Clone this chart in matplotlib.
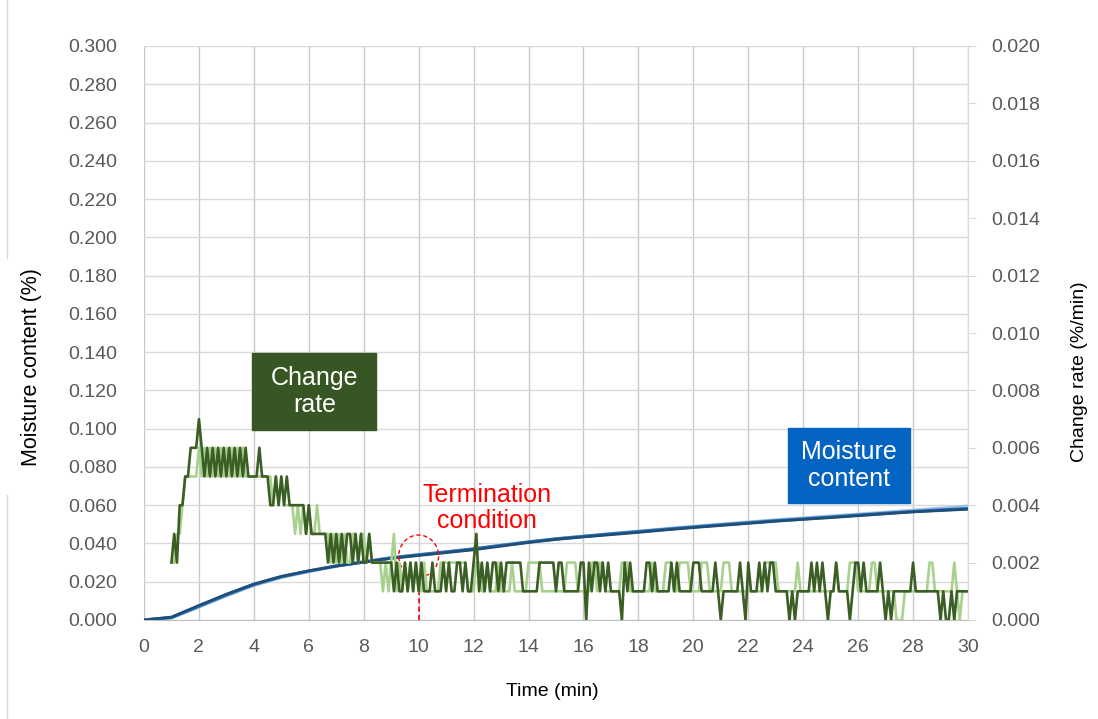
import matplotlib.pyplot as plt
from matplotlib.patches import Ellipse, Rectangle
from matplotlib.lines import Line2D

plt.rcParams['font.family'] = ['Liberation Sans', 'DejaVu Sans']

# === DATA ===
# moisture content (%), read once per minute, three runs
TIME_MC = list(range(31))
MC_DARK = [0.0000, 0.0015, 0.0076, 0.0135, 0.0188, 0.0228, 0.0257, 0.0282, 0.0302, 0.0322,
           0.0337, 0.0352, 0.0367, 0.0386, 0.0405, 0.0421, 0.0434, 0.0446, 0.0458, 0.0471,
           0.0483, 0.0494, 0.0505, 0.0516, 0.0526, 0.0535, 0.0545, 0.0555, 0.0565, 0.0572,
           0.0579]
MC_MID = [0.0000, 0.0013, 0.0072, 0.0131, 0.0185, 0.0226, 0.0256, 0.0283, 0.0304, 0.0325,
          0.0341, 0.0356, 0.0372, 0.0390, 0.0408, 0.0424, 0.0437, 0.0450, 0.0462, 0.0474,
          0.0486, 0.0497, 0.0508, 0.0519, 0.0528, 0.0538, 0.0548, 0.0558, 0.0567, 0.0575,
          0.0582]
MC_LIGHT = [0.0000, 0.0011, 0.0068, 0.0127, 0.0181, 0.0222, 0.0253, 0.0281, 0.0303, 0.0324,
            0.0340, 0.0355, 0.0370, 0.0389, 0.0407, 0.0424, 0.0438, 0.0451, 0.0464, 0.0477,
            0.0489, 0.0501, 0.0512, 0.0523, 0.0533, 0.0543, 0.0553, 0.0563, 0.0574, 0.0584,
            0.0595]

# change rate, one digit per 0.1 min sample, in units of 0.001 %/min
RATE_STEP = 0.1
RATE_DARK_START = 1.0
RATE_DARK = ("2324455666" "7656565656" "5656565655" "5565554454" "5454444443"
             "4333333232" "3232332323" "2232222222" "2121121212" "1211121112"
             "1211221211" "2312121221" "2122222211" "1111222222" "1221111112"
             "2021221212" "1111021211" "1112212111" "1121211111" "2221111121"
             "0111111210" "2111212122" "1111101011" "1112121210" "1121111012"
             "2121111121" "0101111111" "2111111111" "0100101111" "1")
RATE_LIGHT_START = 1.1
RATE_LIGHT = ("233455555" "6565656565" "6565656555" "5555555454" "5444434343"
              "4334333323" "2323223323" "3232222121" "2312121212" "1121111122"
              "2222222211" "1221121112" "1111211111" "2222211111" "1111222211"
              "1112212211" "1111222111" "1111121111" "2221122221" "1112221111"
              "1222111111" "1111112222" "2111111121" "1111111111" "1121111222"
              "1111122111" "1111000111" "1111112211" "1111121011" "1")

X_TICKS = list(range(0, 31, 2))
LEFT_TICKS = [i * 0.02 for i in range(16)]
RIGHT_TICKS = [i * 0.002 for i in range(11)]
TERMINATION_TIME = 10.0
TERMINATION_MC = 0.0334


def rate_series(start, digits):
    vals = [int(c) * 0.001 for c in digits]
    t = [start + i * RATE_STEP for i in range(len(vals))]
    return t, vals


fig = plt.figure(figsize=(10.98, 7.19), dpi=100)
ax = fig.add_axes([144 / 1098, 1 - 620 / 719, 824 / 1098, 574 / 719])
ax2 = ax.twinx()

# --- moisture content (left axis) ---
ax.plot(TIME_MC, MC_LIGHT, color='#9DC3E6', lw=2.3, zorder=3)
ax.plot(TIME_MC, MC_MID, color='#2E75B6', lw=2.3, zorder=3)
ax.plot(TIME_MC, MC_DARK, color='#1F4E79', lw=2.0, zorder=3)

# --- change rate (right axis) ---
t_l, r_l = rate_series(RATE_LIGHT_START, RATE_LIGHT)
t_d, r_d = rate_series(RATE_DARK_START, RATE_DARK)
ax2.plot(t_l, r_l, color='#A9D18E', lw=1.9)
ax2.plot(t_d, r_d, color='#3B5E24', lw=1.9)

# axes
ax.set_xlim(0, 30)
ax.set_ylim(0, 0.3)
ax2.set_ylim(0, 0.02)
ax.set_xticks(X_TICKS)
ax.set_yticks(LEFT_TICKS)
ax2.set_yticks(RIGHT_TICKS)
ax.set_yticklabels([f'{v:.3f}' for v in LEFT_TICKS])
ax2.set_yticklabels([f'{v:.3f}' for v in RIGHT_TICKS])

ax.grid(True, axis='y', color='#D9D9D9', lw=1)
ax.grid(True, axis='x', color='#C9C9C9', lw=1)
ax.set_axisbelow(True)

for s in ['top', 'left', 'right']:
    ax.spines[s].set_visible(False)
ax.spines['bottom'].set_color('#BFBFBF')
for s in ['top', 'left', 'bottom']:
    ax2.spines[s].set_visible(False)
ax2.spines['right'].set_color('#D9D9D9')

ax.tick_params(axis='y', length=0, pad=19, labelsize=14, labelcolor='#595959')
ax.tick_params(axis='x', length=0, pad=14, labelsize=14, labelcolor='#595959')
ax2.tick_params(axis='y', length=6, color='#D9D9D9', pad=11, labelsize=14,
                labelcolor='#595959')

ax.set_xlabel('Time (min)', fontsize=14)
ax.xaxis.set_label_coords(0.496, -0.11)
ax.set_ylabel('Moisture content (%)', fontsize=15.5)
ax.yaxis.set_label_coords(-0.124, 0.44)
ax2.set_ylabel('Change rate (%/min)', fontsize=14, rotation=90)
ax2.yaxis.set_label_coords(1.125, 0.432)

# --- annotations ---
ax.add_patch(Rectangle((3.95, 0.0993), 4.5, 0.0402, color='#375623', zorder=4))
ax.text(6.2, 0.1194, 'Change\nrate', color='white', fontsize=18, ha='center',
        va='center', linespacing=1.2, zorder=5)
ax.add_patch(Rectangle((23.45, 0.0612), 4.45, 0.0392, color='#0563C1', zorder=4))
ax.text(25.67, 0.0808, 'Moisture\ncontent', color='white', fontsize=18, ha='center',
        va='center', linespacing=1.15, zorder=5)

ax.add_patch(Ellipse((TERMINATION_TIME, TERMINATION_MC), 1.45, 0.022, fill=False,
                     ec='#FF0000', lw=1, ls=(0, (3, 2)), zorder=6))
ax.plot([TERMINATION_TIME, TERMINATION_TIME], [0, TERMINATION_MC - 0.011],
        color='#FF0000', lw=1.2, ls=(0, (3, 2)), zorder=6)
ax.text(12.5, 0.0585, 'Termination\ncondition', color='#FF0000', fontsize=18,
        ha='center', va='center', linespacing=1.12, zorder=5)

# chart-area border on the far left, broken by the axis title
fig.add_artist(Line2D([7 / 1098] * 2, [1, 1 - 258 / 719], color='#D9D9D9', lw=1))
fig.add_artist(Line2D([7 / 1098] * 2, [1 - 495 / 719, 0], color='#D9D9D9', lw=1))

plt.savefig('out.png', dpi=100)
